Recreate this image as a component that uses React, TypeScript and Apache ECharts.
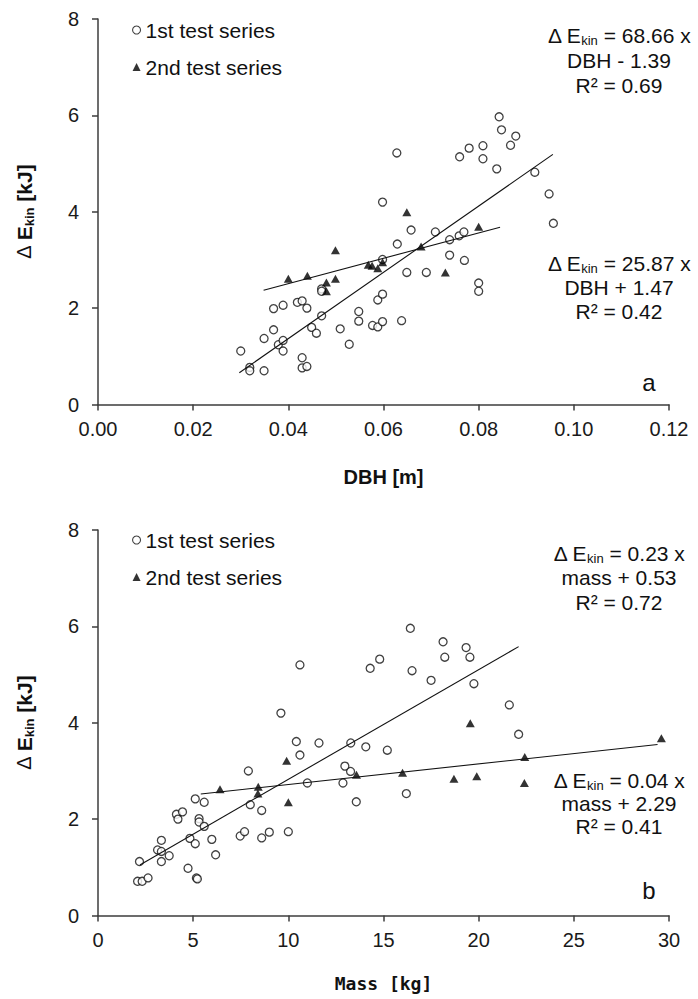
import React, { useEffect, useRef } from "react";
import * as echarts from "echarts";

// ---- Data ----
const dbhFirst: [number, number][] = [
  [0.0300, 1.11], [0.0319, 0.77], [0.0319, 0.70], [0.0349, 0.70], [0.0349, 1.37],
  [0.0369, 1.55], [0.0369, 1.99], [0.0389, 2.06], [0.0379, 1.24], [0.0389, 1.33],
  [0.0389, 1.11], [0.0419, 2.12], [0.0429, 2.15], [0.0439, 2.00], [0.0429, 0.97],
  [0.0429, 0.76], [0.0439, 0.79], [0.0449, 1.60], [0.0459, 1.48], [0.0470, 1.84],
  [0.0470, 2.40], [0.0470, 2.35], [0.0509, 1.57], [0.0528, 1.25], [0.0548, 1.93],
  [0.0548, 1.73], [0.0577, 1.64], [0.0588, 1.61], [0.0588, 2.17], [0.0598, 2.29],
  [0.0598, 1.72], [0.0598, 3.01], [0.0638, 1.74], [0.0649, 2.74], [0.0690, 2.74],
  [0.0629, 3.33], [0.0739, 3.10], [0.0770, 2.99], [0.0800, 2.52], [0.0800, 2.35],
  [0.0739, 3.42], [0.0628, 5.22], [0.0598, 4.20], [0.0658, 3.62], [0.0709, 3.58],
  [0.0843, 5.97], [0.0848, 5.70], [0.0878, 5.57], [0.0867, 5.38], [0.0780, 5.32],
  [0.0809, 5.37], [0.0760, 5.14], [0.0809, 5.10], [0.0838, 4.89], [0.0918, 4.82],
  [0.0948, 4.37], [0.0957, 3.76], [0.0759, 3.50], [0.0769, 3.58],
];
const dbhSecond: [number, number][] = [
  [0.0400, 2.61], [0.0440, 2.67], [0.0499, 3.20], [0.0499, 2.61], [0.0480, 2.53],
  [0.0480, 2.35], [0.0568, 2.90], [0.0576, 2.88], [0.0588, 2.83], [0.0598, 2.95],
  [0.0679, 3.28], [0.0730, 2.74], [0.0649, 3.99], [0.0800, 3.69],
];
const massFirst: [number, number][] = [
  [2.08, 0.71], [2.32, 0.71], [2.63, 0.78], [2.18, 1.12], [3.33, 1.56],
  [3.13, 1.36], [3.33, 1.12], [3.33, 1.33], [3.74, 1.24], [4.12, 2.10],
  [4.20, 2.00], [4.44, 2.15], [4.73, 0.98], [4.83, 1.60], [5.11, 1.49],
  [5.11, 2.42], [5.31, 2.01], [5.31, 1.94], [5.58, 2.35], [5.58, 1.85],
  [5.17, 0.78], [5.22, 0.76], [5.98, 1.58], [6.18, 1.26], [7.47, 1.65],
  [7.70, 1.74], [8.00, 2.30], [8.60, 2.18], [8.60, 1.61], [9.00, 1.73],
  [10.0, 1.74], [11.0, 2.75], [12.87, 2.75], [13.57, 2.36], [13.27, 2.99],
  [16.2, 2.53], [7.90, 3.00], [10.61, 5.20], [9.61, 4.20], [10.42, 3.61],
  [10.61, 3.33], [11.61, 3.58], [13.28, 3.58], [14.07, 3.50], [15.2, 3.43],
  [14.3, 5.13], [14.8, 5.32], [16.5, 5.08], [17.5, 4.88], [12.97, 3.10],
  [16.41, 5.96], [18.13, 5.68], [19.34, 5.56], [18.22, 5.36], [19.54, 5.36],
  [19.75, 4.81], [21.61, 4.37], [22.1, 3.76],
];
const massSecond: [number, number][] = [
  [6.41, 2.62], [8.42, 2.67], [8.40, 2.53], [10.0, 2.35], [9.91, 3.21],
  [13.58, 2.92], [16.0, 2.96], [18.7, 2.84], [19.9, 2.89], [22.4, 2.75],
  [19.56, 3.99], [22.42, 3.29], [29.6, 3.68],
];
// trend-line end points
const dbhFit1: [number, number][] = [[0.0297, 0.66], [0.0956, 5.19]];
const dbhFit2: [number, number][] = [[0.0348, 2.37], [0.0845, 3.68]];
const massFit1: [number, number][] = [[2.2, 1.05], [22.1, 5.58]];
const massFit2: [number, number][] = [[5.4, 2.52], [29.4, 3.55]];

const seriesNames = ["1st test series", "2nd test series"];
const eqTop1 = ["68.66 x", "DBH - 1.39", "R² = 0.69"];
const eqTop2 = ["25.87 x", "DBH + 1.47", "R² = 0.42"];
const eqBot1 = ["0.23 x", "mass + 0.53", "R² = 0.72"];
const eqBot2 = ["0.04 x", "mass + 2.29", "R² = 0.41"];

const FONT = '"Liberation Sans", Arial, sans-serif';
const AXIS_COLOR = "#3c3c3c";

function eqTexts(lines: string[], x: number, y: number, gap: number) {
  const rich = {
    n: { fontSize: 21, fontFamily: FONT, lineHeight: 24, fill: "#111" },
    s: { fontSize: 13, fontFamily: FONT, lineHeight: 10, verticalAlign: "bottom", fill: "#111" },
  };
  return [
    {
      type: "text", x, y, z: 10,
      style: {
        text: `{n|Δ E}{s|kin}{n| = ${lines[0]}}`, rich,
        textAlign: "center", textVerticalAlign: "middle", fill: "#111", font: `21px ${FONT}`,
      },
    },
    {
      type: "text", x, y: y + gap, z: 10,
      style: { text: lines[1], textAlign: "center", textVerticalAlign: "middle", fill: "#111", font: `21px ${FONT}` },
    },
    {
      type: "text", x, y: y + 2 * gap, z: 10,
      style: { text: lines[2], textAlign: "center", textVerticalAlign: "middle", fill: "#111", font: `21px ${FONT}` },
    },
  ];
}

function axisCommon() {
  return {
    axisLine: { show: true, onZero: false, lineStyle: { color: AXIS_COLOR, width: 1.5 } },
    axisTick: { show: true, inside: false, length: 6, lineStyle: { color: AXIS_COLOR, width: 1.5 } },
    splitLine: { show: false },
    axisLabel: { color: "#1a1a1a", fontSize: 20, fontFamily: FONT },
  };
}

const yName = "{d|Δ }{b|E}{s|kin}{b| [kJ]}";
const yNameStyle = {
  fontFamily: FONT, fontSize: 20, fontWeight: "bold", color: "#111",
  rich: {
    d: { fontSize: 20, fontFamily: FONT, fontWeight: "normal", lineHeight: 24, color: "#111" },
    b: { fontSize: 21, fontFamily: FONT, fontWeight: "bold", lineHeight: 24, color: "#111" },
    s: { fontSize: 13, fontFamily: FONT, fontWeight: "bold", lineHeight: 10, verticalAlign: "bottom", color: "#111" },
  },
};

export default function App() {
  const ref = useRef<HTMLDivElement>(null);
  useEffect(() => {
    if (!ref.current) return;
    const chart = echarts.init(ref.current, undefined, { renderer: "svg" });
    const circleStyle = { color: "#ffffff", borderColor: "#111", borderWidth: 1.3 };
    const triStyle = { color: "#000" };
    const fitStyle = { color: "#111", width: 1.1 };
    const legendCommon = {
      orient: "vertical",
      left: 132,
      padding: 0,
      itemWidth: 8,
      itemHeight: 8,
      itemGap: 16,
      itemTextGap: 8,
      textStyle: { fontSize: 21, fontFamily: FONT, color: "#111", lineHeight: 21 },
      data: [
        { name: seriesNames[0], icon: "circle", itemStyle: { color: "#fff", borderColor: "#111", borderWidth: 1.1 } },
        { name: seriesNames[1], icon: "triangle", itemStyle: { color: "#000" } },
      ],
      selectedMode: false,
    };
    chart.setOption({
      animation: false,
      backgroundColor: "#ffffff",
      grid: [
        { left: 98, width: 571, top: 19, height: 385.5 },
        { left: 98, width: 571, top: 530, height: 385.5 },
      ],
      legend: [
        { ...legendCommon, top: 19.5 },
        { ...legendCommon, top: 529.5 },
      ],
      xAxis: [
        {
          type: "value", gridIndex: 0, min: 0, max: 0.12, interval: 0.02,
          ...axisCommon(),
          axisLabel: { ...axisCommon().axisLabel, margin: 14, formatter: (v: number) => v.toFixed(2) },
          name: "DBH [m]", nameLocation: "middle", nameGap: 62,
          nameTextStyle: { fontFamily: FONT, fontSize: 20, fontWeight: "bold", color: "#111" },
        },
        {
          type: "value", gridIndex: 1, min: 0, max: 30, interval: 5,
          ...axisCommon(),
          axisLabel: { ...axisCommon().axisLabel, margin: 14 },
          name: "Mass [kg]", nameLocation: "middle", nameGap: 59,
          nameTextStyle: { fontFamily: '"DejaVu Sans Mono", monospace', fontSize: 18, fontWeight: "bold", color: "#111" },
        },
      ],
      yAxis: [0, 1].map((i) => ({
        type: "value", gridIndex: i, min: 0, max: 8, interval: 2,
        ...axisCommon(),
        axisLabel: { ...axisCommon().axisLabel, margin: 19 },
        name: yName, nameLocation: "middle", nameGap: 62, nameTextStyle: yNameStyle,
      })),
      series: [
        { type: "scatter", name: seriesNames[0], xAxisIndex: 0, yAxisIndex: 0, data: dbhFirst, symbol: "circle", symbolSize: 8, itemStyle: circleStyle, z: 2 },
        { type: "scatter", name: seriesNames[1], xAxisIndex: 0, yAxisIndex: 0, data: dbhSecond, symbol: "triangle", symbolSize: [9, 8], itemStyle: triStyle, z: 2 },
        { type: "line", xAxisIndex: 0, yAxisIndex: 0, data: dbhFit1, symbol: "none", lineStyle: fitStyle, z: 3, silent: true },
        { type: "line", xAxisIndex: 0, yAxisIndex: 0, data: dbhFit2, symbol: "none", lineStyle: fitStyle, z: 3, silent: true },
        { type: "scatter", name: seriesNames[0], xAxisIndex: 1, yAxisIndex: 1, data: massFirst, symbol: "circle", symbolSize: 8, itemStyle: circleStyle, z: 2 },
        { type: "scatter", name: seriesNames[1], xAxisIndex: 1, yAxisIndex: 1, data: massSecond, symbol: "triangle", symbolSize: [9, 8], itemStyle: triStyle, z: 2 },
        { type: "line", xAxisIndex: 1, yAxisIndex: 1, data: massFit1, symbol: "none", lineStyle: fitStyle, z: 3, silent: true },
        { type: "line", xAxisIndex: 1, yAxisIndex: 1, data: massFit2, symbol: "none", lineStyle: fitStyle, z: 3, silent: true },
      ],
      graphic: [
        ...eqTexts(eqTop1, 619, 35, 25),
        ...eqTexts(eqTop2, 619, 263, 24),
        ...eqTexts(eqBot1, 619, 553, 24.5),
        ...eqTexts(eqBot2, 619, 780, 23),
        { type: "text", x: 649, y: 382, style: { text: "a", textAlign: "center", textVerticalAlign: "middle", font: `24px ${FONT}`, fill: "#111" } },
        { type: "text", x: 649, y: 890, style: { text: "b", textAlign: "center", textVerticalAlign: "middle", font: `24px ${FONT}`, fill: "#111" } },
      ],
    });
    return () => chart.dispose();
  }, []);
  return <div ref={ref} style={{ position: "fixed", left: 0, top: 0, width: 698, height: 999, background: "#fff" }} />;
}
